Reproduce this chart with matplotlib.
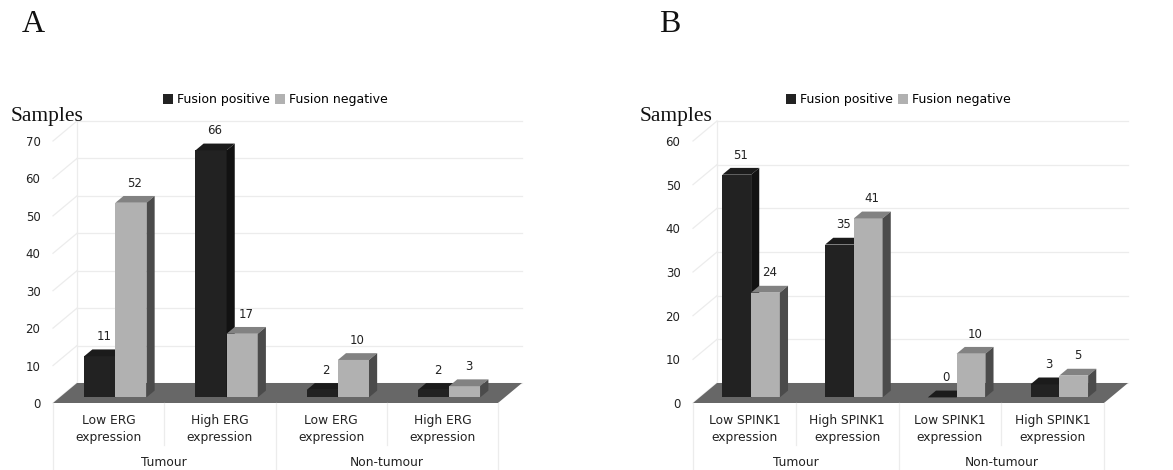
import matplotlib

matplotlib.use("Agg")
import matplotlib.pyplot as plt
from matplotlib.patches import Polygon, Rectangle

# ---- data -------------------------------------------------------------
SERIES = ["Fusion positive", "Fusion negative"]

erg_labels = ["Low ERG\nexpression", "High ERG\nexpression",
              "Low ERG\nexpression", "High ERG\nexpression"]
erg_pos = [11, 66, 2, 2]
erg_neg = [52, 17, 10, 3]
erg_ticks = [0, 10, 20, 30, 40, 50, 60, 70]

spink_labels = ["Low SPINK1\nexpression", "High SPINK1\nexpression",
                "Low SPINK1\nexpression", "High SPINK1\nexpression"]
spink_pos = [51, 35, 0, 3]
spink_neg = [24, 41, 10, 5]
spink_ticks = [0, 10, 20, 30, 40, 50, 60]

groups = ["Tumour", "Non-tumour"]

# ---- styling ----------------------------------------------------------
W, H = 1173, 470
DEPTH_PX = (24, -20)          # oblique depth vector of the floor / walls
BAR_D0, BAR_D1 = 0.28, 0.62   # bar depth span as a fraction of the floor depth
BAR_W = 0.28                  # per bar, in category units
FACES = {
    0: dict(front="#222222", top="#1b1b1b", side="#121212"),
    1: dict(front="#b1b1b1", top="#828282", side="#4b4b4b"),
}
GRID = "#ececec"
FLOOR = "#676767"
TXT = "#222222"
SANS = "DejaVu Sans"
SERIF = "Liberation Serif"


def panel(fig, left_px, right_px, labels, pos, neg, ticks, letter, letter_xy, samples_x):
    top_px, zero_px = 141, 403
    span = zero_px - top_px
    ax = fig.add_axes([left_px / W, (H - zero_px) / H,
                       (right_px - left_px) / W, span / H])
    ymax = ticks[-1]
    n = len(labels)
    ax.set_xlim(0, n)
    ax.set_ylim(0, ymax)
    for s in ax.spines.values():
        s.set_visible(False)
    ax.set_xticks([])
    ax.set_yticks(ticks)
    ax.set_yticklabels([str(t) for t in ticks], fontsize=8.5, color=TXT, family=SANS)
    ax.tick_params(axis="y", length=0, pad=9)

    # pixel -> data conversions
    sx = n / (right_px - left_px)
    sy = ymax / span
    ddx, ddy = DEPTH_PX[0] * sx, -DEPTH_PX[1] * sy

    def shift(x, y, d):
        return (x + ddx * d, y + ddy * d)

    # walls: gridlines on left wall and back wall
    for t in ticks:
        ax.plot([0, ddx], [t, t + ddy], color=GRID, lw=0.9, clip_on=False, zorder=0)
        ax.plot([ddx, n + ddx], [t + ddy, t + ddy], color=GRID, lw=0.9,
                clip_on=False, zorder=0)
    ax.plot([ddx, ddx], [ddy, ymax + ddy], color=GRID, lw=0.9, clip_on=False, zorder=0)

    # floor
    ax.add_patch(Polygon([(0, 0), (n, 0), shift(n, 0, 1), shift(0, 0, 1)],
                         closed=True, facecolor=FLOOR, edgecolor="none",
                         clip_on=False, zorder=1))

    # bars: front, top and side faces
    for i in range(n):
        for k, vals in enumerate([pos, neg]):
            v = vals[i]
            c = FACES[k]
            x0 = i + 0.5 - BAR_W + k * BAR_W
            x1 = x0 + BAR_W
            fx0, fy0 = shift(x0, 0, BAR_D0)
            fx1, fy1 = shift(x1, v, BAR_D0)
            z = 3 + i * 2 + k
            ax.add_patch(Rectangle((fx0, fy0), fx1 - fx0, fy1 - fy0,
                                   facecolor=c["front"], edgecolor="none",
                                   clip_on=False, zorder=z))
            ax.add_patch(Polygon([shift(x0, v, BAR_D0), shift(x1, v, BAR_D0),
                                  shift(x1, v, BAR_D1), shift(x0, v, BAR_D1)],
                                 closed=True, facecolor=c["top"], edgecolor="none",
                                 clip_on=False, zorder=z))
            ax.add_patch(Polygon([shift(x1, 0, BAR_D0), shift(x1, v, BAR_D0),
                                  shift(x1, v, BAR_D1), shift(x1, 0, BAR_D1)],
                                 closed=True, facecolor=c["side"], edgecolor="none",
                                 clip_on=False, zorder=z))
            lx, ly = shift((x0 + x1) / 2, v, (BAR_D0 + BAR_D1) / 2)
            ax.annotate(str(v), (lx, ly), xytext=(0, 7), textcoords="offset points",
                        ha="center", va="bottom", fontsize=8.5, color=TXT,
                        family=SANS, annotation_clip=False, zorder=20)

    # category axis: labels in a table-like layout
    tr = ax.get_xaxis_transform()
    row1 = -42 / span
    bottom = -67 / span
    for i, lab in enumerate(labels):
        ax.text(i + 0.5, -11 / span, lab, transform=tr, ha="center", va="top",
                fontsize=8.8, color=TXT, family=SANS, linespacing=1.4)
    for i, g in enumerate(groups):
        ax.text(2 * i + 1, -59 / span, g, transform=tr, ha="center", va="center",
                fontsize=8.8, color=TXT, family=SANS)
    for x in range(n + 1):
        lo = bottom if x % 2 == 0 else row1
        ax.plot([x, x], [0, lo], transform=tr, color=GRID, lw=0.9, clip_on=False)

    # legend
    handles = [Rectangle((0, 0), 1, 1, facecolor=FACES[k]["front"], edgecolor="none")
               for k in range(2)]
    ax.legend(handles, SERIES, loc="center", bbox_to_anchor=(0.5, 1 + 41 / span),
              ncol=2, frameon=False, handlelength=0.8, handleheight=0.8,
              handletextpad=0.3, columnspacing=0.45,
              prop=dict(family=SANS, size=9))

    fig.text(samples_x / W, 1 - 117 / H, "Samples", ha="left", va="center",
             fontsize=15.5, family=SERIF, color="#111111")
    fig.text(letter_xy[0] / W, 1 - letter_xy[1] / H, letter, ha="center",
             va="center", fontsize=23, family=SERIF, color="#111111")
    return ax


fig = plt.figure(figsize=(W / 100, H / 100), dpi=100)
panel(fig, 53, 498, erg_labels, erg_pos, erg_neg, erg_ticks, "A", (33, 24), 11)
panel(fig, 693, 1104, spink_labels, spink_pos, spink_neg, spink_ticks, "B", (670, 24), 640)
fig.savefig("out.png", dpi=100)
